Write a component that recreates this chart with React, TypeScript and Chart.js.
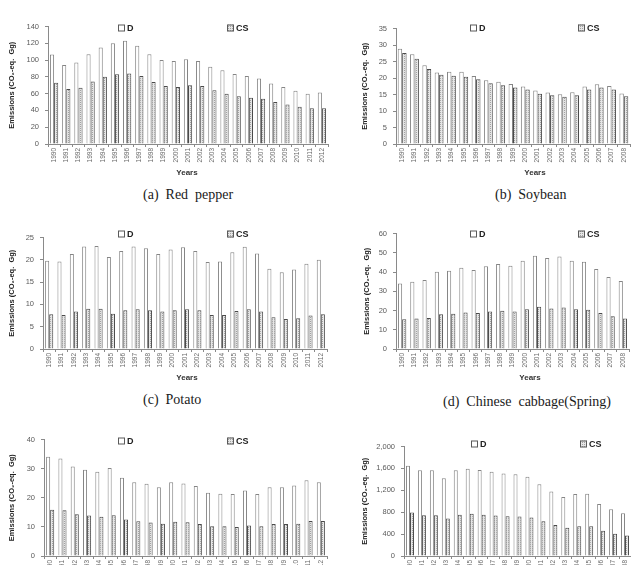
import React, { useEffect, useRef } from "react";
import { Chart, registerables } from "chart.js";

Chart.register(...registerables);

// Year categories
const yearsTo2012 = ["1990", "1991", "1992", "1993", "1994", "1995", "1996", "1997", "1998", "1999", "2000", "2001", "2002", "2003", "2004", "2005", "2006", "2007", "2008", "2009", "2010", "2011", "2012"];
const yearsTo2008 = ["1990", "1991", "1992", "1993", "1994", "1995", "1996", "1997", "1998", "1999", "2000", "2001", "2002", "2003", "2004", "2005", "2006", "2007", "2008"];

// (a) Red pepper
const redPepperD = [106.5, 94, 97, 107, 115, 120, 123, 117, 107, 100, 99, 101, 99, 92, 88, 83.5, 81, 78, 72, 68, 63.5, 60, 61.5];
const redPepperCS = [73, 65.5, 67, 74.5, 80, 83, 84, 81, 74, 69, 68, 70, 69, 64, 60, 57, 55, 54, 50, 47, 44.5, 42.5, 42.5];

// (b) Soybean
const soybeanD = [28.9, 27.2, 23.9, 21.7, 21.9, 21.9, 20.6, 19.3, 18.9, 18.2, 17.4, 16.2, 15.6, 15.1, 15.7, 17.4, 18.1, 17.6, 15.3];
const soybeanCS = [27.6, 25.8, 22.7, 21.0, 20.7, 20.4, 19.6, 18.4, 17.8, 17.1, 16.5, 15.2, 14.8, 14.3, 14.8, 16.5, 17.1, 16.5, 14.5];

// (c) Potato
const potatoD = [19.8, 19.6, 21.3, 23.0, 23.1, 20.6, 22.0, 23.0, 22.6, 21.3, 22.3, 22.8, 22.0, 19.5, 19.6, 21.7, 22.9, 21.4, 18.0, 17.2, 17.8, 19.1, 20.0];
const potatoCS = [7.8, 7.6, 8.4, 9.0, 9.0, 7.9, 8.7, 8.9, 8.7, 8.4, 8.7, 8.9, 8.7, 7.6, 7.6, 8.5, 8.9, 8.4, 7.1, 6.7, 6.9, 7.5, 7.8];

// (d) Chinese cabbage (Spring)
const cabbageD = [34.0, 35.0, 35.8, 40.1, 40.6, 42.2, 41.1, 43.0, 44.1, 43.2, 45.9, 48.5, 47.3, 48.0, 45.9, 45.3, 41.5, 37.4, 35.3];
const cabbageCS = [15.4, 15.8, 16.1, 18.0, 18.3, 19.0, 18.7, 19.5, 19.9, 19.5, 20.7, 21.9, 21.1, 21.6, 20.7, 20.4, 18.7, 17.0, 15.9];

// (e)
const cropED = [34.1, 33.5, 30.7, 29.6, 28.9, 30.2, 26.9, 25.3, 24.8, 23.6, 25.3, 24.9, 24.0, 21.7, 21.4, 21.3, 22.5, 21.3, 23.6, 23.6, 24.2, 26.0, 25.3];
const cropECS = [15.9, 15.7, 14.3, 13.9, 13.5, 14.0, 12.5, 11.9, 11.5, 11.1, 11.8, 11.6, 11.0, 10.2, 10.2, 10.0, 10.5, 10.2, 11.0, 11.0, 11.1, 12.0, 12.0];

// (f)
const cropFD = [1648, 1564, 1564, 1418, 1564, 1594, 1570, 1539, 1509, 1491, 1448, 1309, 1176, 1079, 1133, 1139, 952, 855, 782];
const cropFCS = [794, 745, 745, 685, 752, 770, 752, 739, 727, 721, 703, 636, 564, 515, 545, 545, 461, 406, 376];

const seriesNames = ["D", "CS"];
const yTitle = "Emissions (CO\u2082-eq.  Gg)";
const xTitle = "Years";

const SANS = "'Liberation Sans', Arial, sans-serif";

type Frame = {
  left: number; // canvas left on page
  top: number; // canvas top on page
  plotLeft: number;
  plotRight: number;
  plotTop: number;
  plotBottom: number;
  titlePad: number;
  legendY: number;
  legendDX: number;
  legendCSX: number;
  yearsX: number;
  groupFrac: number;
};

type PanelProps = {
  labels: string[];
  d: number[];
  cs: number[];
  yMax: number;
  yStep: number;
  frame: Frame;
};

const X_AXIS_H = 38;
const RIGHT_PAD = 12;

// Fine grey stipple used for the CS bars
function dotPattern(ctx: CanvasRenderingContext2D): CanvasPattern | string {
  const c = document.createElement("canvas");
  c.width = 2;
  c.height = 2;
  const g = c.getContext("2d");
  if (!g) return "#d0d0d0";
  g.fillStyle = "#e6e6e6";
  g.fillRect(0, 0, 2, 2);
  g.fillStyle = "#a2a2a2";
  g.fillRect(0, 0, 1, 1);
  return ctx.createPattern(c, "repeat") || "#d0d0d0";
}

// Draws the two-item key and the "Years" caption at fixed spots on the panel
const panelText = {
  id: "panelText",
  afterDraw(chart: any, _args: any, opts: any) {
    const ctx: CanvasRenderingContext2D = chart.ctx;
    ctx.save();
    const box = 7;
    const items = [
      { x: opts.dX, fill: "#ffffff", label: seriesNames[0] },
      { x: opts.csX, fill: opts.pattern, label: seriesNames[1] },
    ];
    ctx.font = `bold 9px ${SANS}`;
    ctx.textBaseline = "middle";
    ctx.textAlign = "left";
    for (const it of items) {
      ctx.fillStyle = it.fill;
      ctx.fillRect(it.x, opts.y - box / 2, box, box);
      ctx.strokeStyle = "#5a5a5a";
      ctx.lineWidth = 1;
      ctx.strokeRect(it.x + 0.5, opts.y - box / 2 + 0.5, box - 1, box - 1);
      ctx.fillStyle = "#222";
      ctx.fillText(it.label, it.x + box + 2, opts.y + 0.5);
    }
    ctx.font = `bold 8px ${SANS}`;
    ctx.textAlign = "center";
    ctx.fillStyle = "#333";
    ctx.fillText(xTitle, opts.yearsX, opts.yearsY);
    ctx.restore();
  },
};

function Panel({ labels, d, cs, yMax, yStep, frame }: PanelProps) {
  const ref = useRef<HTMLCanvasElement | null>(null);
  const width = frame.plotRight - frame.left + RIGHT_PAD;
  const height = frame.plotBottom - frame.top + X_AXIS_H;

  useEffect(() => {
    const canvas = ref.current;
    if (!canvas) return;
    const ctx = canvas.getContext("2d");
    if (!ctx) return;
    const pattern = dotPattern(ctx);
    const chart = new Chart(canvas, {
      type: "bar",
      data: {
        labels,
        datasets: [
          {
            label: seriesNames[0],
            data: d,
            backgroundColor: "#ffffff",
            borderColor: "#858585",
            borderWidth: 1,
            categoryPercentage: frame.groupFrac,
            barPercentage: 1,
          },
          {
            label: seriesNames[1],
            data: cs,
            backgroundColor: pattern as any,
            borderColor: "#4a4a4a",
            borderWidth: 1,
            categoryPercentage: frame.groupFrac,
            barPercentage: 1,
          },
        ],
      },
      plugins: [panelText],
      options: {
        responsive: false,
        animation: false,
        events: [],
        layout: {
          padding: { left: 0, right: RIGHT_PAD, top: frame.plotTop - frame.top, bottom: 0 },
        },
        plugins: {
          legend: { display: false },
          tooltip: { enabled: false },
          panelText: {
            pattern,
            y: frame.legendY - frame.top,
            dX: frame.legendDX - frame.left,
            csX: frame.legendCSX - frame.left,
            yearsX: frame.yearsX - frame.left,
            yearsY: frame.plotBottom - frame.top + 29,
          },
        } as any,
        scales: {
          x: {
            grid: { drawOnChartArea: false, drawTicks: true, tickLength: 3, color: "#8a8a8a", offset: true },
            border: { color: "#8a8a8a" },
            ticks: {
              autoSkip: false,
              maxRotation: 90,
              minRotation: 90,
              padding: 1,
              color: "#6a6a6a",
              font: { family: SANS, size: 6.5 },
            },
            afterFit(scale: any) {
              scale.height = X_AXIS_H;
            },
          },
          y: {
            min: 0,
            max: yMax,
            grid: { drawOnChartArea: false, drawTicks: true, tickLength: 3, color: "#8a8a8a" },
            border: { color: "#8a8a8a" },
            ticks: {
              stepSize: yStep,
              padding: 6,
              color: "#5a5a5a",
              font: { family: SANS, size: 7.5 },
            },
            title: {
              display: true,
              text: yTitle,
              color: "#222",
              font: { family: SANS, size: 7.5, weight: "bold" },
              padding: { top: frame.titlePad, bottom: 0 },
            },
            afterFit(scale: any) {
              scale.width = frame.plotLeft - frame.left;
            },
          },
        },
      },
    } as any);
    return () => chart.destroy();
  }, [labels, d, cs, yMax, yStep, frame]);

  return (
    <canvas
      ref={ref}
      width={width}
      height={height}
      style={{ position: "absolute", left: frame.left, top: frame.top, width, height }}
    />
  );
}

const frameA: Frame = { left: 0, top: 16, plotLeft: 48, plotRight: 328, plotTop: 26, plotBottom: 144, titlePad: 7.5, legendY: 28, legendDX: 118, legendCSX: 227, yearsX: 187, groupFrac: 0.68 };
const frameB: Frame = { left: 340, top: 18, plotLeft: 396, plotRight: 630, plotTop: 28, plotBottom: 144, titlePad: 20, legendY: 28, legendDX: 470, legendCSX: 578, yearsX: 535, groupFrac: 0.72 };
const frameC: Frame = { left: 0, top: 227, plotLeft: 43, plotRight: 327, plotTop: 237, plotBottom: 349, titlePad: 7.5, legendY: 234, legendDX: 118, legendCSX: 227, yearsX: 187, groupFrac: 0.66 };
const frameD: Frame = { left: 340, top: 223, plotLeft: 396, plotRight: 629, plotTop: 233, plotBottom: 349, titlePad: 22, legendY: 234, legendDX: 470, legendCSX: 578, yearsX: 530, groupFrac: 0.68 };
const frameE: Frame = { left: 0, top: 429, plotLeft: 44, plotRight: 327, plotTop: 439, plotBottom: 556, titlePad: 7.5, legendY: 441, legendDX: 118, legendCSX: 227, yearsX: 187, groupFrac: 0.66 };
const frameF: Frame = { left: 340, top: 436, plotLeft: 404, plotRight: 631, plotTop: 446, plotBottom: 556, titlePad: 20, legendY: 444, legendDX: 471, legendCSX: 580, yearsX: 530, groupFrac: 0.67 };

const captionStyle = (left: number, top: number): React.CSSProperties => ({
  position: "absolute",
  left,
  top,
  fontFamily: "'Liberation Serif', 'Times New Roman', serif",
  fontSize: 14,
  lineHeight: "16px",
  color: "#1a1a1a",
  whiteSpace: "pre",
});

export default function App() {
  return (
    <div
      style={{
        position: "absolute",
        left: 0,
        top: 0,
        width: 631,
        height: 565,
        overflow: "hidden",
        background: "#ffffff",
      }}
    >
      <Panel labels={yearsTo2012} d={redPepperD} cs={redPepperCS} yMax={140} yStep={20} frame={frameA} />
      <Panel labels={yearsTo2008} d={soybeanD} cs={soybeanCS} yMax={35} yStep={5} frame={frameB} />
      <Panel labels={yearsTo2012} d={potatoD} cs={potatoCS} yMax={25} yStep={5} frame={frameC} />
      <Panel labels={yearsTo2008} d={cabbageD} cs={cabbageCS} yMax={60} yStep={10} frame={frameD} />
      <Panel labels={yearsTo2012} d={cropED} cs={cropECS} yMax={40} yStep={10} frame={frameE} />
      <Panel labels={yearsTo2008} d={cropFD} cs={cropFCS} yMax={2000} yStep={400} frame={frameF} />
      <span style={captionStyle(143, 187)}>(a)  Red  pepper</span>
      <span style={captionStyle(495, 187)}>(b)  Soybean</span>
      <span style={captionStyle(143, 392)}>(c)  Potato</span>
      <span style={captionStyle(443, 394)}>(d)  Chinese  cabbage(Spring)</span>
    </div>
  );
}
